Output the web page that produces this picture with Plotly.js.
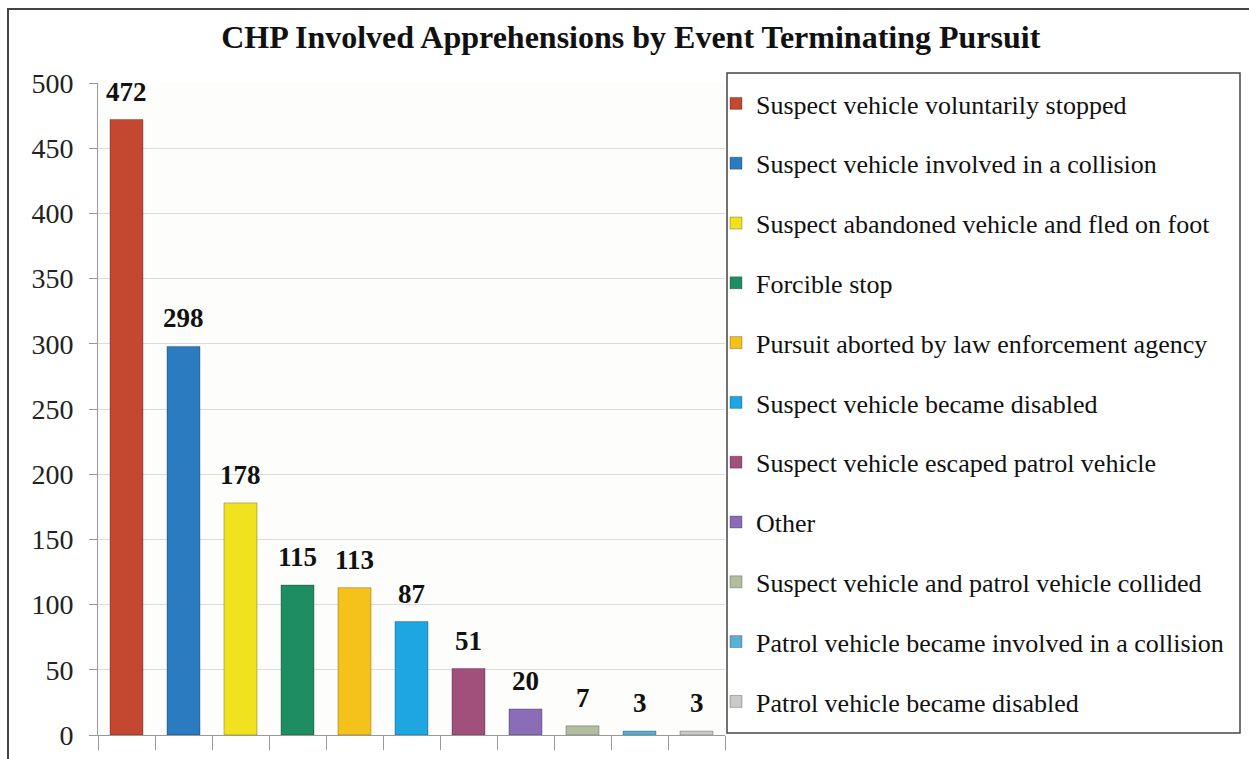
<!DOCTYPE html>
<html>
<head>
<meta charset="utf-8">
<script src="https://cdn.plot.ly/plotly-3.0.1.min.js"></script>
<style>
  html, body { margin: 0; padding: 0; background: #ffffff; }
  #frame { position: absolute; left: 7px; top: 8px; width: 1250px; height: 760px;
           border-left: 2px solid #444; border-top: 2px solid #444; box-sizing: border-box; }
  #chart { position: absolute; left: 0; top: 0; width: 1249px; height: 759px; }
</style>
</head>
<body>
<div id="frame"></div>
<div id="chart"></div>
<script>
const categories = [
  "Suspect vehicle voluntarily stopped",
  "Suspect vehicle involved in a collision",
  "Suspect abandoned vehicle and fled on foot",
  "Forcible stop",
  "Pursuit aborted by law enforcement agency",
  "Suspect vehicle became disabled",
  "Suspect vehicle escaped patrol vehicle",
  "Other",
  "Suspect vehicle and patrol vehicle collided",
  "Patrol vehicle became involved in a collision",
  "Patrol vehicle became disabled"
];
const values = [472, 298, 178, 115, 113, 87, 51, 20, 7, 3, 3];
const colors = ["#C4472F", "#2B7BC0", "#F0E21E", "#1E8E62", "#F4C21A", "#1EA6E0",
                "#A0507A", "#8A6DB6", "#B3BDA0", "#5AAFD6", "#C9C9C9"];

const serif = "Liberation Serif, Times New Roman, serif";

const traces = categories.map((c, i) => ({
  type: "bar",
  name: c,
  x: [c],
  y: [values[i]],
  legendgroup: "g" + i,
  marker: { color: colors[i], line: { color: "rgba(0,0,0,0.25)", width: 1 } },
  hoverinfo: "x+y"
}));

const annotations = categories.map((c, i) => ({
  x: c, y: values[i], xref: "x", yref: "y",
  text: "<b>" + values[i] + "</b>",
  showarrow: false, yanchor: "bottom", yshift: 11,
  font: { family: serif, size: 27, color: "#111" }
}));

const layout = {
  width: 1249, height: 759,
  margin: { l: 98, r: 524, t: 83, b: 24 },
  paper_bgcolor: "rgba(0,0,0,0)",
  plot_bgcolor: "#fdfdfb",
  barmode: "overlay",
  bargap: 0.42,
  showlegend: true,
  title: {
    text: "<b>CHP Involved Apprehensions by Event Terminating Pursuit</b>",
    x: 0.505, xref: "container", xanchor: "center",
    y: 0.951, yref: "container", yanchor: "middle",
    font: { family: serif, size: 32, color: "#111" }
  },
  xaxis: {
    type: "category",
    categoryorder: "array", categoryarray: categories,
    showticklabels: false,
    tickson: "boundaries",
    ticks: "outside", ticklen: 14, tickcolor: "#999", tickwidth: 1,
    showline: true, linecolor: "#999", linewidth: 1,
    showgrid: false, zeroline: false,
    range: [-0.5, 10.5]
  },
  yaxis: {
    range: [0, 500], dtick: 50, tick0: 0,
    ticks: "outside", ticklen: 8, tickcolor: "#999",
    ticklabelstandoff: 10,
    showline: true, linecolor: "#999", linewidth: 1,
    gridcolor: "#dcdcdc", gridwidth: 1,
    zeroline: false,
    tickfont: { family: serif, size: 28, color: "#222" }
  },
  legend: {
    x: (716 - 98) / 627, xanchor: "left",
    y: (735 - 80) / 652, yanchor: "top",
    bgcolor: "rgba(0,0,0,0)",
    borderwidth: 0,
    tracegroupgap: 23,
    traceorder: "grouped",
    valign: "middle",
    maxheight: 740,
    font: { family: serif, size: 26, color: "#111" }
  },
  shapes: [{
    type: "rect", xref: "paper", yref: "paper",
    x0: (727 - 98) / 627, x1: (1240 - 98) / 627,
    y0: (735 - 733) / 652, y1: (735 - 73) / 652,
    line: { color: "#444", width: 1.5 }, fillcolor: "rgba(255,255,255,0)"
  }],
  annotations: annotations
};

Plotly.newPlot("chart", traces, layout, { displayModeBar: false, responsive: false });
</script>
</body>
</html>
